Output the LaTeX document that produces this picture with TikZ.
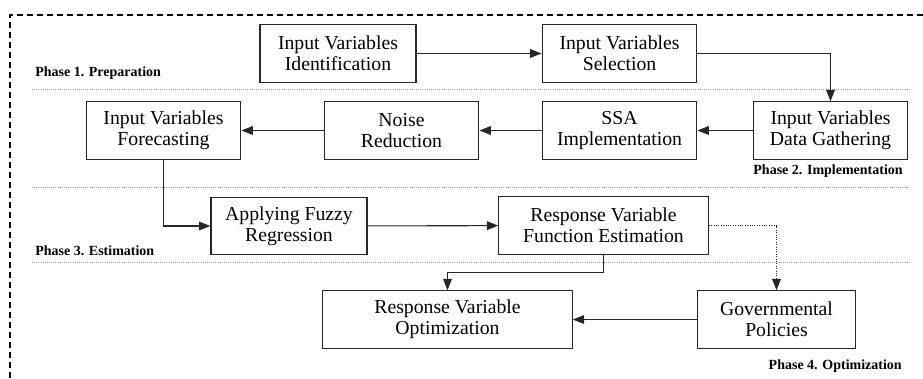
\documentclass[tikz,border=0pt]{standalone}
\usepackage{fontspec}
\setmainfont{Liberation Serif}
\usetikzlibrary{arrows.meta}
\usetikzlibrary{calc}

\begin{document}
\begin{tikzpicture}[x=0.75pt, y=-0.75pt,
        box/.style={draw=black!85, line width=0.9pt, align=center, inner sep=0pt,
            minimum height=43pt, font=\fontsize{14.8}{15.8}\selectfont},
        phase/.style={inner sep=0pt, font=\fontsize{10.5}{12}\selectfont\bfseries},
        flow/.style={black!85, line width=0.8pt, -{Triangle[length=8.5pt, width=6.5pt]}},
        sep/.style={black!45, line width=0.6pt, densely dotted}]
            \useasboundingbox (0,0) rectangle (923,378);
            \draw[black, line width=1pt, dash pattern=on 4.5pt off 3pt] (10,378) -- (10,15) -- (923,15);
            \draw[sep] (32,89) -- (908,89);
            \draw[sep] (32,187) -- (908,187);
            \draw[sep] (32,262) -- (908,262);
            \node[phase, anchor=west] (ph1) at (35,73) {Phase 1. Preparation};
            \node[phase, anchor=east] (ph2) at (903,171) {Phase 2. Implementation};
            \node[phase, anchor=west] (ph3) at (35,251) {Phase 3. Estimation};
            \node[phase, anchor=east] (ph4) at (902,366) {Phase 4. Optimization};
            \node[box, minimum width=117pt] (ident) at (338,53.5) {Input Variables\\Identification};
            \node[box, minimum width=116pt] (select) at (619.5,53.5) {Input Variables\\Selection};
            \node[box, minimum width=116pt] (gather) at (830.5,130.5) {Input Variables\\Data Gathering};
            \node[box, minimum width=116pt] (ssa) at (619.5,130.5) {SSA\\Implementation};
            \node[box, minimum width=116pt] (noise) at (401.5,130.5) {Noise\\Reduction};
            \node[box, minimum width=116pt] (forecast) at (163.5,130.5) {Input Variables\\Forecasting};
            \node[box, minimum width=117pt] (fuzzy) at (289,226) {Applying Fuzzy\\Regression};
            \node[box, minimum width=157pt] (estim) at (603.5,225.5) {Response Variable\\Function Estimation};
            \node[box, minimum width=187pt] (optim) at (447.5,319.5) {Response Variable\\Optimization};
            \node[box, minimum width=119pt] (policy) at (776.5,319.5) {Governmental\\Policies};
            \draw[flow] (ident) -- (select);
            \draw[flow] (select.east) -| (gather.north);
            \draw[flow] (gather) -- (ssa);
            \draw[flow] (ssa) -- (noise);
            \draw[flow] (noise) -- (forecast);
            \draw[flow] (forecast.south) |- (fuzzy.west);
            \draw[flow] (fuzzy) -- (estim);
            \draw[flow] (estim.south) -- ++(0,18) -| (optim.north);
            \draw[flow, densely dotted] (estim.east) -| (policy.north);
            \draw[flow] (policy) -- (optim);
        \end{tikzpicture}
\end{document}
